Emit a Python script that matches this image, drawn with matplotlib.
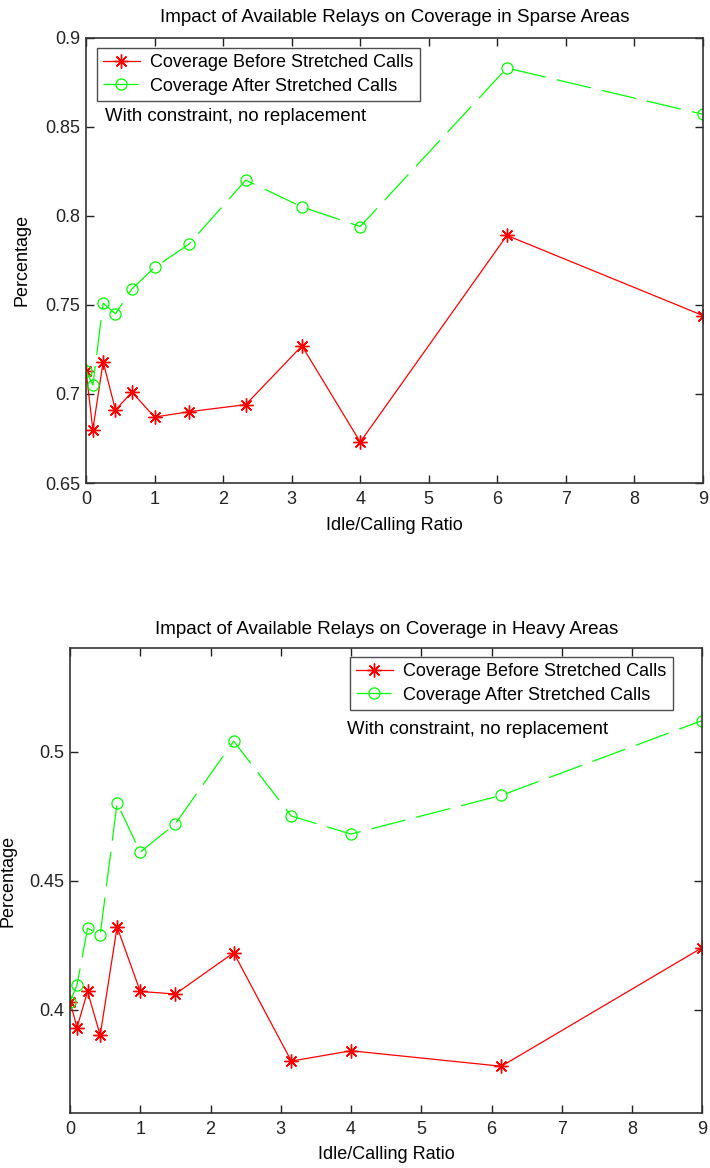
import matplotlib
matplotlib.use("Agg")
import matplotlib.pyplot as plt

plt.rcParams["font.family"] = ["Liberation Sans", "DejaVu Sans"]

# idle/calling ratio (shared by both panels)
ratio = [0, 0.1, 0.25, 0.43, 0.67, 1, 1.5, 2.33, 3.15, 4, 6.14, 9]

# sparse areas
sparse_before = [0.713, 0.680, 0.718, 0.691, 0.701, 0.687, 0.690, 0.694, 0.727, 0.673, 0.789, 0.744]
sparse_after = [0.713, 0.705, 0.751, 0.745, 0.759, 0.771, 0.784, 0.820, 0.805, 0.794, 0.883, 0.857]

# heavy areas
heavy_before = [0.403, 0.393, 0.407, 0.390, 0.432, 0.407, 0.406, 0.422, 0.380, 0.384, 0.378, 0.424]
heavy_after = [0.403, 0.4095, 0.4315, 0.429, 0.480, 0.461, 0.472, 0.504, 0.475, 0.468, 0.483, 0.512]

x_ticks = list(range(0, 10))
sparse_yticks = [0.65, 0.7, 0.75, 0.8, 0.85, 0.9]
heavy_yticks = [0.4, 0.45, 0.5]

labels = ["Coverage Before Stretched Calls", "Coverage After Stretched Calls"]
note = "With constraint, no replacement"

FS = 13
RED = "#ff0000"
GREEN = "#00ff00"


def draw_panel(ax, before, after, title, ylim, yticks, title_pad):
    ax.plot(ratio, before, color=RED, lw=0.9, marker=(8, 2, 0), ms=10, mew=1.0,
            label=labels[0])
    ax.plot(ratio, after, color=GREEN, lw=0.9, dashes=(28, 9), marker="o", ms=8,
            mfc="none", mew=0.9, label=labels[1])
    ax.set_xlim(0, 9)
    ax.set_ylim(*ylim)
    ax.set_xticks(x_ticks)
    ax.set_yticks(yticks)
    ax.set_yticklabels([f"{v:g}" for v in yticks])
    ax.tick_params(direction="in", length=6, width=1, top=True, right=True,
                   labelsize=FS, colors="#222222")
    ax.tick_params(axis="x", pad=6)
    ax.tick_params(axis="y", pad=4)
    for s in ax.spines.values():
        s.set_linewidth(1.2)
        s.set_color("#333333")
    ax.set_title(title, fontsize=13.5, pad=title_pad)
    ax.set_xlabel("Idle/Calling Ratio", fontsize=FS, labelpad=6)
    ax.set_ylabel("Percentage", fontsize=FS)


def add_legend(ax, anchor):
    leg = ax.legend(loc="upper left", bbox_to_anchor=anchor, fontsize=FS,
                    frameon=True, fancybox=False, edgecolor="#222222",
                    handlelength=2.0, borderpad=0.35, labelspacing=0.35,
                    handletextpad=0.6, borderaxespad=0)
    leg.get_frame().set_linewidth(1.0)


fig = plt.figure(figsize=(7.10, 11.68), dpi=100)

ax1 = fig.add_axes([86 / 710, 1 - 483 / 1168, 617 / 710, 445.3 / 1168])
draw_panel(ax1, sparse_before, sparse_after,
           "Impact of Available Relays on Coverage in Sparse Areas",
           (0.65, 0.9), sparse_yticks, 11.5)
add_legend(ax1, (0.018, 0.977))
ax1.text(0.03, 0.822, note, transform=ax1.transAxes, fontsize=13.4, va="center")
ax1.yaxis.set_label_coords(-0.09, 0.5)

ax2 = fig.add_axes([70 / 710, 1 - 1112.7 / 1168, 632.3 / 710, 464.4 / 1168])
draw_panel(ax2, heavy_before, heavy_after,
           "Impact of Available Relays on Coverage in Heavy Areas",
           (0.36, 0.54), heavy_yticks, 10.5)
add_legend(ax2, (0.443, 0.981))
ax2.text(0.438, 0.826, note, transform=ax2.transAxes, fontsize=13.4, va="center")
ax2.yaxis.set_label_coords(-0.085, 0.5)

fig.savefig("out.png", dpi=100)
